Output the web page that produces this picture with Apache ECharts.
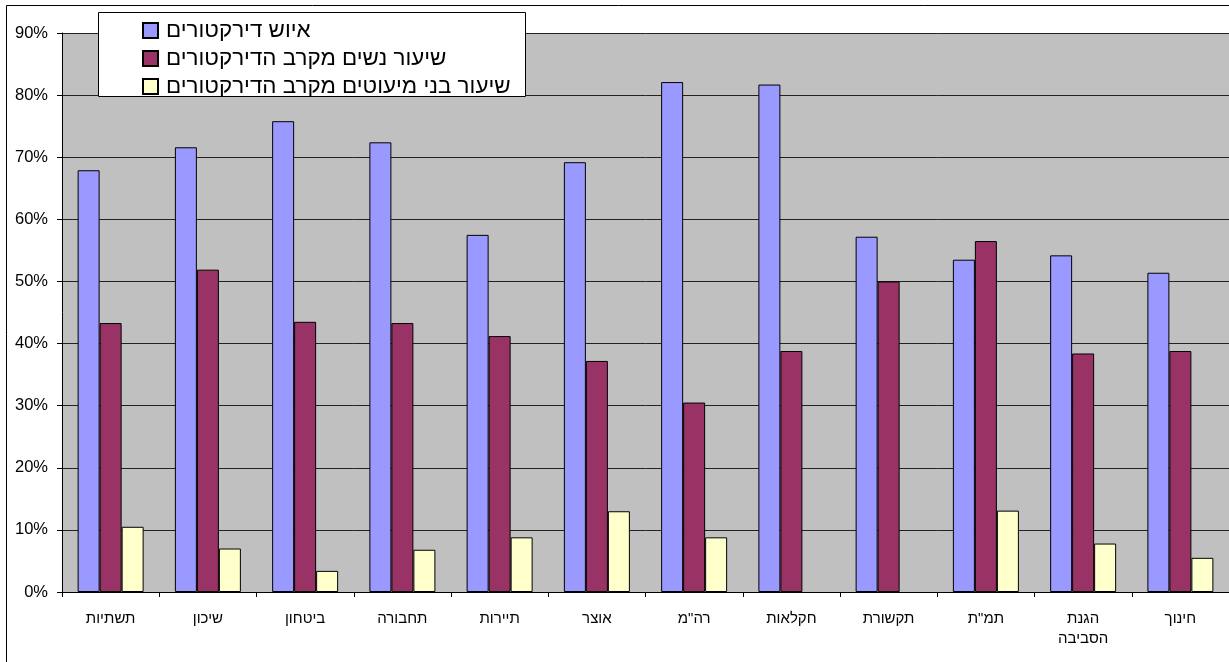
<!DOCTYPE html>
<html>
<head>
<meta charset="utf-8">
<script src="https://cdn.jsdelivr.net/npm/echarts@6/dist/echarts.min.js"></script>
<style>
html,body{margin:0;padding:0;background:#fff;}
#c{width:1229px;height:662px;}
</style>
</head>
<body>
<div id="c"></div>
<script>
const categories = ['תשתיות','שיכון','ביטחון','תחבורה','תיירות','אוצר','רה"מ','חקלאות','תקשורת','תמ"ת','הגנת\nהסביבה','חינוך'];
const seriesNames = ['איוש דירקטורים','שיעור נשים מקרב הדירקטורים','שיעור בני מיעוטים מקרב הדירקטורים'];
const staffing = [67.9, 71.6, 75.8, 72.4, 57.5, 69.2, 82.1, 81.7, 57.2, 53.5, 54.2, 51.4];
const women = [43.3, 51.9, 43.5, 43.3, 41.2, 37.2, 30.5, 38.8, 50.0, 56.5, 38.4, 38.8];
const minorities = [10.5, 7.0, 3.4, 6.8, 8.8, 13.0, 8.8, null, null, 13.1, 7.8, 5.5];
const yTicks = [0, 10, 20, 30, 40, 50, 60, 70, 80, 90];

const colors = ['#9999FF', '#993366', '#FFFFCC'];
const font = '"Liberation Sans", Arial, sans-serif';

const chart = echarts.init(document.getElementById('c'));
const mk = (i, data) => ({
  name: seriesNames[i],
  type: 'bar',
  data: data,
  barWidth: 22,
  barGap: '0%',
  itemStyle: { color: colors[i], borderColor: '#000', borderWidth: 1 },
  emphasis: { disabled: true }
});
chart.setOption({
  animation: false,
  textStyle: { fontFamily: font },
  graphic: [
    { type: 'rect', z: 0, zlevel: 0, silent: true,
      shape: { x: 6.5, y: 5.5, width: 1240, height: 680 },
      style: { fill: 'none', stroke: '#000', lineWidth: 1 } },
    { type: 'rect', z: 100, silent: true,
      shape: { x: 98.5, y: 12.5, width: 427, height: 84 },
      style: { fill: '#fff', stroke: '#000', lineWidth: 1 } }
  ],
  legend: {
    z: 101,
    orient: 'vertical',
    align: 'left',
    left: 142,
    top: 19.5,
    icon: 'rect',
    itemWidth: 15,
    itemHeight: 15,
    itemGap: 6,
    padding: 0,
    textStyle: { fontSize: 22.4, lineHeight: 20, color: '#000', fontFamily: font, padding: [0, 0, 0, 3] },
    data: seriesNames
  },
  grid: {
    left: 62, top: 33, bottom: 70, width: 1175,
    show: true, backgroundColor: '#C0C0C0', borderWidth: 0
  },
  xAxis: {
    type: 'category',
    data: categories,
    axisLine: { lineStyle: { color: '#000', width: 1 } },
    axisTick: { show: true, length: 5, lineStyle: { color: '#000' } },
    axisLabel: { color: '#000', fontSize: 15, margin: 17, lineHeight: 20, fontFamily: font, interval: 0 }
  },
  yAxis: {
    type: 'value',
    min: 0, max: 90, interval: 10,
    axisLine: { show: true, lineStyle: { color: '#000', width: 1 } },
    axisTick: { show: true, length: 5, lineStyle: { color: '#000' } },
    axisLabel: { color: '#000', fontSize: 16.5, margin: 14, fontFamily: font,
      formatter: v => yTicks.indexOf(v) >= 0 ? v + '%' : '' },
    splitLine: { show: true, lineStyle: { color: '#222', width: 1 } }
  },
  series: [mk(0, staffing), mk(1, women), mk(2, minorities)]
});
</script>
</body>
</html>
